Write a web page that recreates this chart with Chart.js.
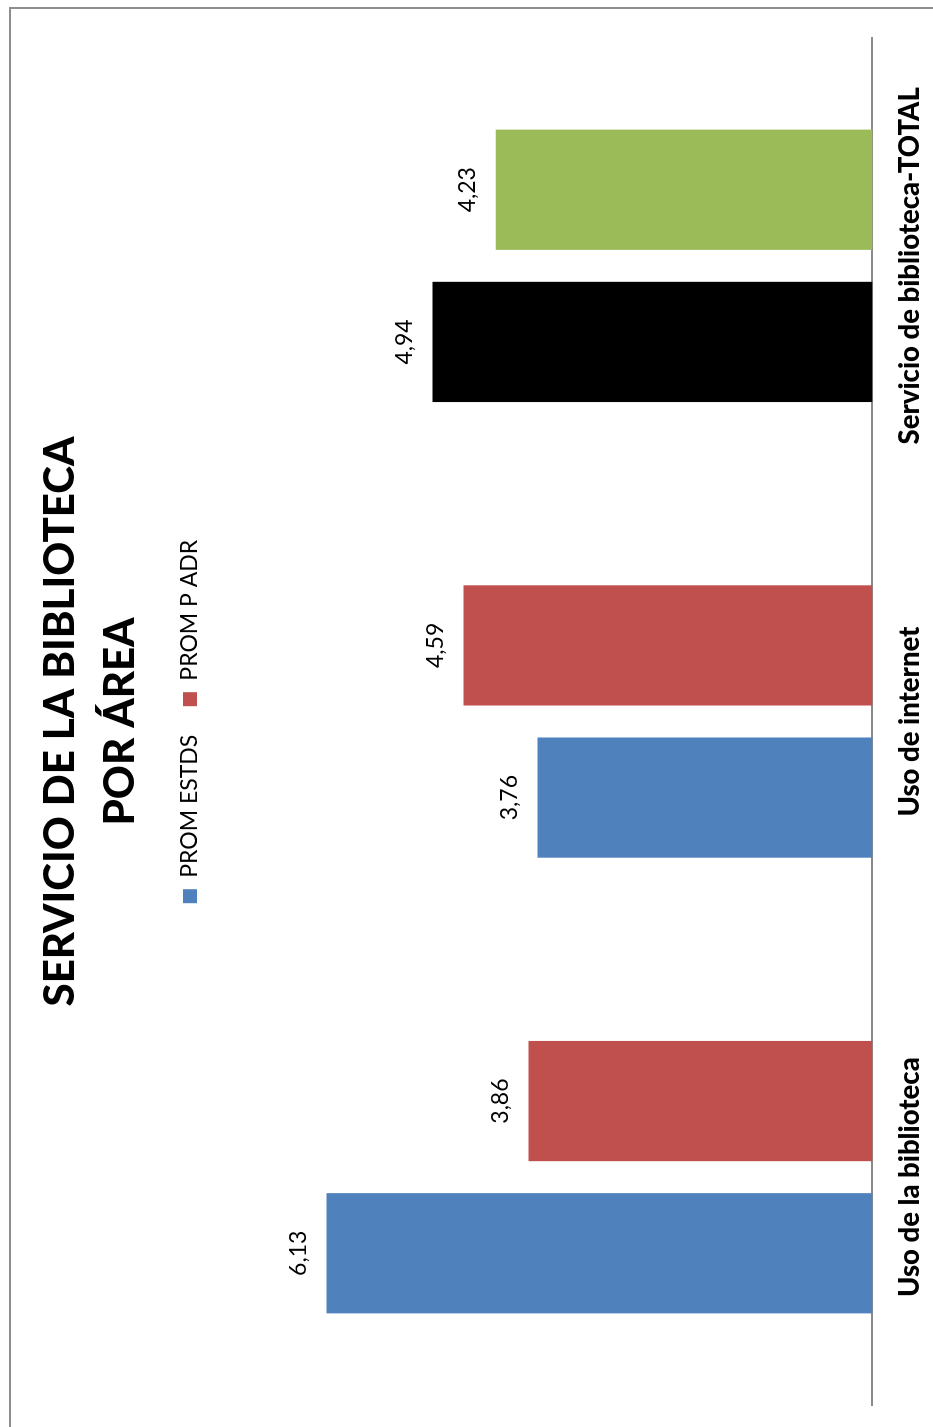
<!DOCTYPE html>
<html>
<head>
<meta charset="utf-8">
<script src="https://cdn.jsdelivr.net/npm/chart.js@4/dist/chart.umd.min.js"></script>
<style>
  html, body { margin: 0; padding: 0; background: #fff; overflow: hidden; }
  body { width: 933px; height: 1427px; position: relative; }
  #frame {
    position: absolute; left: 9px; top: 7px; width: 940px; height: 1440px;
    border-top: 2px solid #8e8e8e; border-left: 2px solid #8e8e8e;
  }
  #wrap {
    position: absolute; left: 0; top: 0; width: 1427px; height: 933px;
    transform-origin: 0 0; transform: translate(0, 1427px) rotate(-90deg);
  }
</style>
</head>
<body>
<div id="frame"></div>
<div id="wrap"><canvas id="c" width="1427" height="933"></canvas></div>
<script>
const categories = ['Uso de la biblioteca', 'Uso de internet', 'Servicio de biblioteca-TOTAL'];
const seriesNames = ['PROM ESTDS', 'PROM P ADR'];
const promEstds = [6.13, 3.76, 4.94];
const promPAdr = [3.86, 4.59, 4.23];
const estdsColors = ['#4F81BD', '#4F81BD', '#000000'];
const padrColors = ['#C0504D', '#C0504D', '#9BBB59'];
const titleLines = ['SERVICIO DE LA BIBLIOTECA', 'POR ÁREA'];

const FONT = 'Lato, "Open Sans", sans-serif';

// value labels written above each column, decimal comma
const valueLabels = {
  id: 'valueLabels',
  afterDatasetsDraw(chart) {
    const ctx = chart.ctx;
    ctx.save();
    ctx.font = '23px ' + FONT;
    ctx.fillStyle = '#000';
    ctx.textAlign = 'center';
    ctx.textBaseline = 'middle';
    chart.data.datasets.forEach((ds, i) => {
      chart.getDatasetMeta(i).data.forEach((bar, j) => {
        const txt = ds.data[j].toFixed(2).replace('.', ',');
        ctx.fillText(txt, bar.x, bar.y - 28);
      });
    });
    ctx.restore();
  }
};

new Chart(document.getElementById('c'), {
  type: 'bar',
  data: {
    labels: categories,
    datasets: [
      { label: seriesNames[0], data: promEstds, backgroundColor: estdsColors, borderWidth: 0 },
      { label: seriesNames[1], data: promPAdr, backgroundColor: padrColors, borderWidth: 0 }
    ]
  },
  options: {
    responsive: false,
    animation: false,
    devicePixelRatio: 1,
    categoryPercentage: 0.668,
    barPercentage: 0.79,
    layout: { padding: { left: 22, right: 38, top: 0, bottom: -14.4 } },
    plugins: {
      title: {
        display: true,
        text: titleLines,
        color: '#000',
        font: { family: FONT, size: 42, weight: '900', lineHeight: '60px' },
        padding: { top: 30, bottom: 0 }
      },
      legend: {
        display: true,
        position: 'top',
        labels: {
          color: '#000',
          font: { family: FONT, size: 23 },
          boxWidth: 14,
          boxHeight: 14,
          padding: 28.5
        }
      },
      tooltip: { enabled: false }
    },
    scales: {
      x: {
        grid: { display: false, drawTicks: false },
        border: { display: true, color: '#8a8a8a', width: 2 },
        ticks: { color: '#000', font: { family: FONT, size: 27.5, weight: '900' }, padding: 21, maxRotation: 0 }
      },
      y: {
        display: false,
        min: 0,
        max: 7.42
      }
    }
  },
  plugins: [valueLabels]
});
</script>
</body>
</html>
